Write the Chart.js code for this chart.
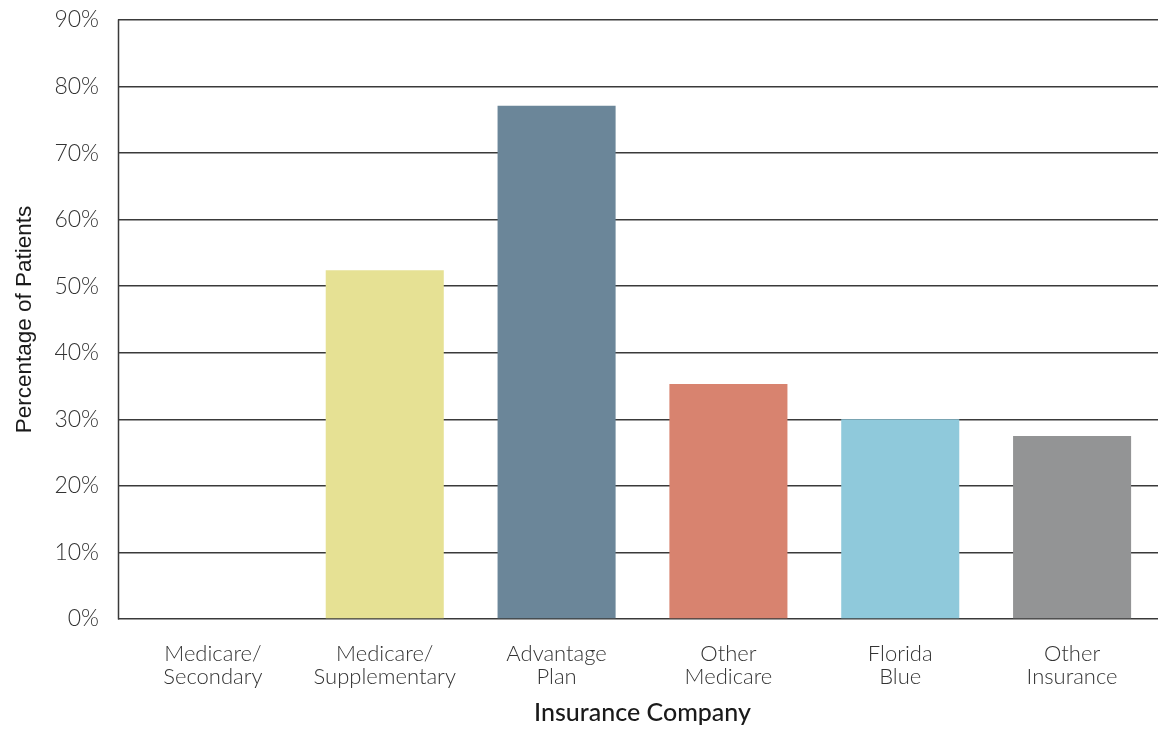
<!DOCTYPE html>
<html>
<head>
<meta charset="utf-8">
<script src="https://cdn.jsdelivr.net/npm/chart.js@4"></script>
<style>
  html, body { margin: 0; padding: 0; background: #ffffff; }
  #wrap { width: 1158px; height: 729px; }
</style>
</head>
<body>
<div id="wrap"><canvas id="chart" width="1158" height="729"></canvas></div>
<script>
// Insurance categories (two-line labels)
const categories = [
  ['Medicare/', 'Secondary'],
  ['Medicare/', 'Supplementary'],
  ['Advantage', 'Plan'],
  ['Other', 'Medicare'],
  ['Florida', 'Blue'],
  ['Other', 'Insurance']
];

// Share of patients per insurance type, in percent
const patientShare = [0, 52.4, 77.1, 35.3, 30.0, 27.5];

// One fill per bar
const barColors = ['#8FC9DB', '#E6E194', '#6B8699', '#D8836F', '#8FC9DB', '#939495'];

// Value axis range and step
const yMin = 0;
const yMax = 90;
const yStep = 10;

const GRID = '#3a3a3a';
const TICK_EXT = 9;

// Vertical axis line at the left end of the gridlines
const axisLine = {
  id: 'axisLine',
  afterDraw(chart) {
    const { ctx, chartArea } = chart;
    const x = chartArea.left - TICK_EXT + 0.5;
    ctx.save();
    ctx.strokeStyle = GRID;
    ctx.lineWidth = 1.5;
    ctx.beginPath();
    ctx.moveTo(x, chartArea.top - 0.5);
    ctx.lineTo(x, chartArea.bottom + 0.5);
    ctx.stroke();
    ctx.restore();
  }
};

new Chart(document.getElementById('chart'), {
  type: 'bar',
  data: {
    labels: categories,
    datasets: [{
      data: patientShare,
      backgroundColor: barColors,
      borderWidth: 0,
      categoryPercentage: 1.0,
      barPercentage: 0.687
    }]
  },
  options: {
    responsive: false,
    animation: false,
    events: [],
    layout: { padding: { top: 20, right: 0, bottom: 0, left: 0 } },
    plugins: {
      legend: { display: false },
      tooltip: { enabled: false }
    },
    scales: {
      x: {
        grid: { display: false, drawTicks: false },
        border: { display: false },
        ticks: {
          color: '#333333',
          padding: 23,
          maxRotation: 0,
          autoSkip: false,
          font: { family: 'Lato', size: 22, weight: 300, lineHeight: 1.05 }
        },
        title: {
          display: true,
          text: 'Insurance Company',
          color: '#1a1a1a',
          padding: { top: 0, bottom: 1 },
          font: { family: 'Lato', size: 25, weight: 500, lineHeight: 1.2 }
        },
        afterFit(scale) {
          scale.height = 110;
          scale.paddingLeft = 0;
          scale.paddingRight = 0;
        }
      },
      y: {
        min: yMin,
        max: yMax,
        grid: {
          color: GRID,
          lineWidth: 1.5,
          drawTicks: true,
          tickLength: TICK_EXT
        },
        border: { display: false },
        ticks: {
          stepSize: yStep,
          color: '#333333',
          padding: 19,
          font: { family: 'Lato', size: 23, weight: 300 },
          callback: (v) => v + '%'
        },
        title: {
          display: true,
          text: 'Percentage of Patients',
          color: '#1a1a1a',
          padding: { top: 11, bottom: 0 },
          font: { family: 'Liberation Sans', size: 22.5, weight: 'normal', lineHeight: 1.2 }
        },
        afterFit(scale) {
          scale.width = 127;
          scale.paddingTop = 0;
          scale.paddingBottom = 0;
        }
      }
    }
  },
  plugins: [axisLine]
});
</script>
</body>
</html>
